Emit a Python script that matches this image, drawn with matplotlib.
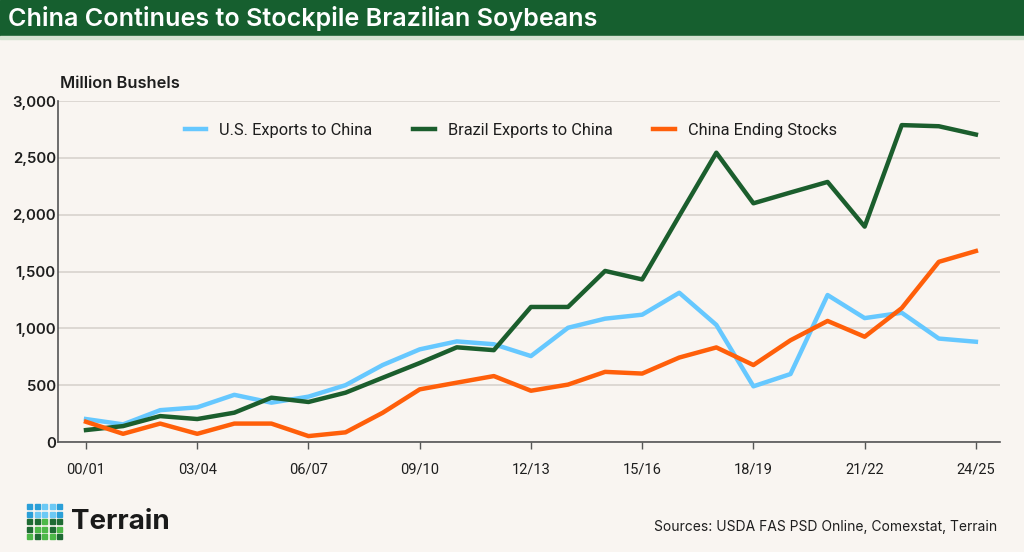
import matplotlib.pyplot as plt
from matplotlib.patches import Rectangle
import numpy as np

###################################
# DATA (million bushels, marketing years)
###################################
years = ['00/01', '01/02', '02/03', '03/04', '04/05', '05/06', '06/07', '07/08',
         '08/09', '09/10', '10/11', '11/12', '12/13', '13/14', '14/15', '15/16',
         '16/17', '17/18', '18/19', '19/20', '20/21', '21/22', '22/23', '23/24', '24/25']
us_exports = [202, 155, 280, 305, 415, 346, 399, 500, 677, 815, 885, 860, 756, 1005,
              1085, 1120, 1313, 1030, 490, 598, 1293, 1090, 1137, 910, 882]
brazil_exports = [105, 140, 228, 202, 258, 390, 352, 434, 565, 695, 833, 808, 1188, 1188,
                  1505, 1430, 1990, 2545, 2100, 2195, 2288, 1895, 2788, 2778, 2705]
china_stocks = [178, 72, 162, 72, 162, 162, 52, 85, 257, 463, 522, 580, 451, 505,
                617, 602, 743, 832, 677, 895, 1065, 926, 1178, 1585, 1680]
tick_labels = years[::3]

BG = '#F9F5F1'
DARKGREEN = '#165F2F'
BLUE = '#66C8FF'
GREEN = '#1B5E2D'
ORANGE = '#FF5F0A'
TXT = '#1E1E1E'

plt.rcParams['font.family'] = ['Inter', 'DejaVu Sans']
narrow = ['Roboto', 'DejaVu Sans']

fig = plt.figure(figsize=(10.24, 5.52), dpi=100, facecolor=BG)

# title bar
fig.patches.append(Rectangle((0, 1 - 36 / 552), 1, 36 / 552, transform=fig.transFigure,
                             color=DARKGREEN, zorder=0))
fig.patches.append(Rectangle((0, 1 - 39 / 552), 1, 3 / 552, transform=fig.transFigure,
                             color='#D5E3D2', zorder=0))
fig.text(8 / 1024, 1 - 18.5 / 552, 'China Continues to Stockpile Brazilian Soybeans',
         color='white', fontsize=18.1, fontweight='semibold', va='center', ha='left')

ax = fig.add_axes([58 / 1024, 1 - 442 / 552, 942 / 1024, 341 / 552])
ax.set_facecolor(BG)
x = np.arange(len(years))

ax.plot(x, us_exports, color=BLUE, lw=3.2, label='U.S. Exports to China', zorder=3)
ax.plot(x, brazil_exports, color=GREEN, lw=3.2, label='Brazil Exports to China', zorder=3)
ax.plot(x, china_stocks, color=ORANGE, lw=3.2, label='China Ending Stocks', zorder=3)

ax.set_ylim(0, 3000)
ax.set_xlim(-0.755, 24.65)
ax.set_yticks(range(0, 3001, 500))
ax.set_yticklabels([f'{v:,}' for v in range(0, 3001, 500)], fontsize=10.8,
                   fontweight='semibold', color=TXT)
ax.set_xticks(x[::3])
ax.set_xticklabels(tick_labels, fontsize=10.5, color=TXT, family=narrow)
ax.tick_params(axis='y', length=0, pad=1.5)
ax.tick_params(axis='x', length=5, width=1, color='#555555', pad=10)
ax.grid(axis='y', color='#DDD8D3', lw=1.4, zorder=0)
ax.set_axisbelow(True)
for s in ['top', 'right']:
    ax.spines[s].set_visible(False)
for s in ['left', 'bottom']:
    ax.spines[s].set_color('#555555')
    ax.spines[s].set_linewidth(1.2)

leg = ax.legend(loc='upper left', bbox_to_anchor=(112 / 942, 0.98), ncol=3, frameon=False,
                handlelength=1.3, handletextpad=0.8, columnspacing=2.5,
                prop={'family': narrow, 'size': 11.8})
for t in leg.get_texts():
    t.set_color(TXT)

fig.text(60 / 1024, 1 - 83 / 552, 'Million Bushels', fontsize=11.8, fontweight='semibold',
         color=TXT, va='center', ha='left')

# logo
logo_cols = [['#2A9FD8', '#2A9FD8', '#6CC9F5', '#6CC9F5', '#2A9FD8'],
             ['#2A9FD8', '#6CC9F5', '#6CC9F5', '#6CC9F5', '#2A9FD8'],
             ['#1E6B33', '#1E6B33', '#4DB848', '#1E6B33', '#1E6B33'],
             ['#1E6B33', '#4DB848', '#4DB848', '#1E6B33', '#4DB848'],
             ['#4DB848', '#1E6B33', '#4DB848', '#4DB848', '#1E6B33']]
for r in range(5):
    for c in range(5):
        fig.patches.append(Rectangle(((27 + c * 7.5) / 1024, 1 - (509 + r * 7.5) / 552),
                                     5 / 1024, 5 / 552, transform=fig.transFigure,
                                     color=logo_cols[r][c]))
fig.text(71 / 1024, 1 - 522 / 552, 'Terrain', fontsize=20, fontweight='bold',
         color='#1A1A1A', va='center', ha='left')
fig.text(997 / 1024, 1 - 527 / 552, 'Sources: USDA FAS PSD Online, Comexstat, Terrain',
         fontsize=10, color=TXT, va='center', ha='right')

fig.savefig('out.png', dpi=100, facecolor=BG)
